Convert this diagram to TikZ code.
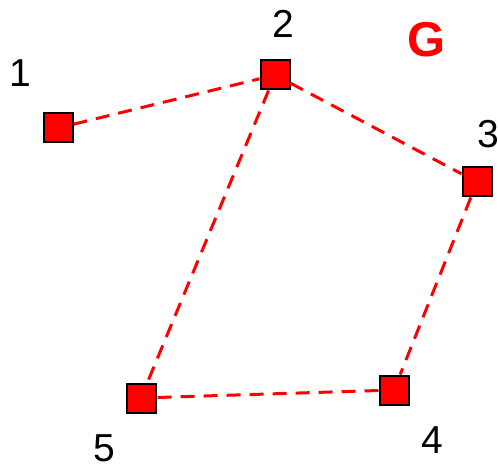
\documentclass[tikz,border=0pt]{standalone}
\usepackage{fontspec}
\setmainfont{Liberation Sans}
\begin{document}
\begin{tikzpicture}[x=1pt,y=-1pt,
  vert/.style={draw=black,line width=2pt,fill=red,minimum size=29pt,inner sep=0pt,rectangle},
  edge/.style={draw=red,line width=3pt,dash pattern=on 14pt off 9pt},
  lbl/.style={font=\fontsize{39}{39}\selectfont,inner sep=0pt}]
\useasboundingbox (0,0) rectangle (498,465);
\node[vert] (n1) at (58,128) {};
\node[vert] (n2) at (275,75) {};
\node[vert] (n3) at (477,182) {};
\node[vert] (n4) at (394,390) {};
\node[vert] (n5) at (141,398) {};
\begin{scope}[on background layer/.try]
\end{scope}
\node[lbl] (l1) at (20,73) {1};
\node[lbl] (l2) at (283,24) {2};
\node[lbl] (l3) at (488,134) {3};
\node[lbl] (l4) at (432,440) {4};
\node[lbl] (l5) at (104,448) {5};
\node[font=\fontsize{49}{49}\selectfont\bfseries,text=red,inner sep=0pt] (g) at (427,40) {G};
\path[edge] (n1) -- (n2);
\path[edge] (n2) -- (n3);
\path[edge] (n2) -- (n5);
\path[edge] (n3) -- (n4);
\path[edge] (n4) -- (n5);
\end{tikzpicture}
\end{document}
